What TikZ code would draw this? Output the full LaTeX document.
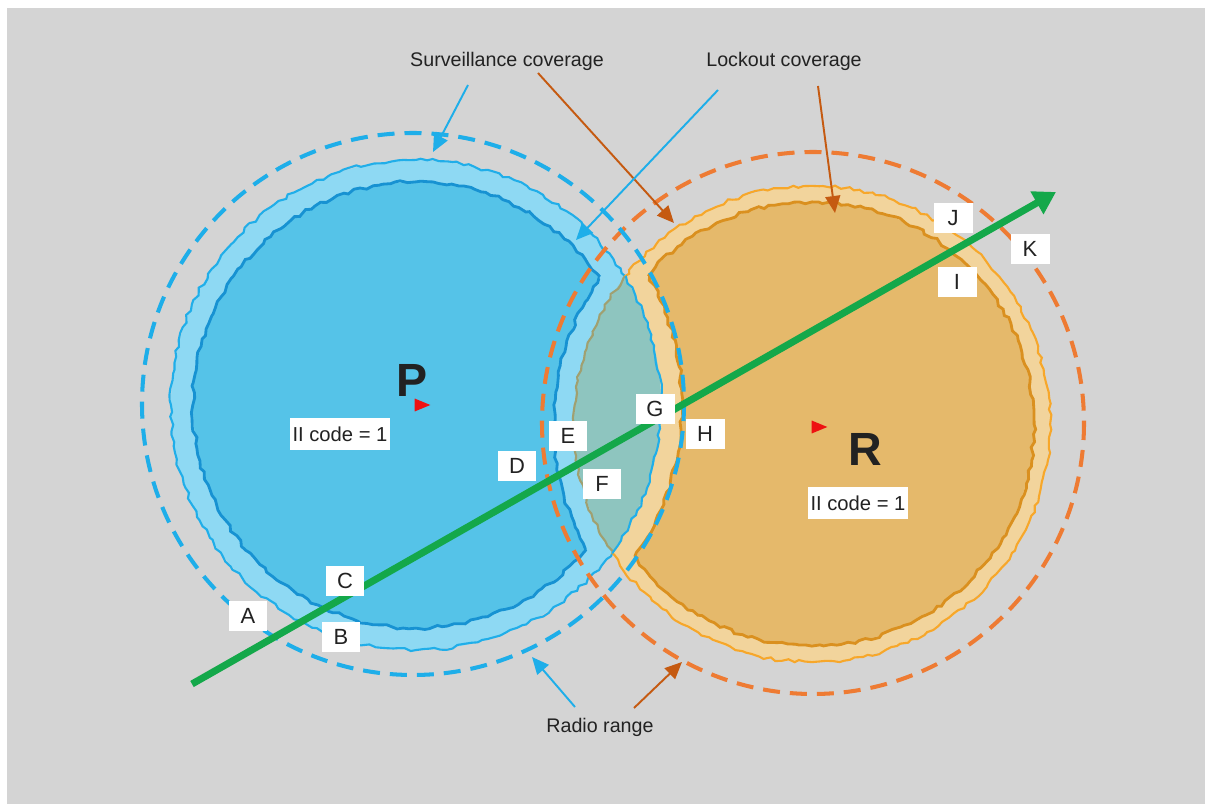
\documentclass[tikz,border=0pt]{standalone}
\usepackage{fontspec}
\setmainfont{Liberation Sans}
\usetikzlibrary{arrows.meta,decorations.pathmorphing,shapes.geometric}
\definecolor{bggray}{HTML}{D4D4D4}
\definecolor{bandblue}{HTML}{8ED9F3}
\definecolor{coreblue}{HTML}{55C3E8}
\definecolor{edgeblue}{HTML}{20AEE9}
\definecolor{deepblue}{HTML}{1792D2}
\definecolor{lensteal}{HTML}{8EC5BF}
\definecolor{lensolive}{HTML}{A0A070}
\definecolor{bandorange}{HTML}{F2D49C}
\definecolor{coreorange}{HTML}{E5B96B}
\definecolor{edgeorange}{HTML}{F7A72A}
\definecolor{deeporange}{HTML}{DA901F}
\definecolor{radioblue}{HTML}{1EAEE9}
\definecolor{radioorange}{HTML}{EE7B33}
\definecolor{trackgreen}{HTML}{14A84A}
\definecolor{sitered}{HTML}{EE1111}
\definecolor{pointbrown}{HTML}{C55A11}
\definecolor{textgray}{HTML}{222222}
\begin{document}
\pgfmathsetseed{7}
\begin{tikzpicture}[x=0.02cm,y=-0.02cm,
  tag/.style={fill=white,inner sep=0pt,minimum width=0.78cm,minimum height=0.62cm,
    font=\fontsize{12.5}{14}\selectfont,text=textgray},
  code/.style={fill=white,inner xsep=1.5pt,inner ysep=0pt,minimum height=0.64cm,
    font=\fontsize{11.5}{13}\selectfont,text=textgray},
  caption/.style={anchor=base,font=\fontsize{11.2}{13}\selectfont,text=textgray},
  big/.style={anchor=base,font=\fontsize{26.5}{30}\selectfont\bfseries,text=textgray},
  rough/.style={decorate,decoration={random steps,segment length=0.12cm,amplitude=0.035cm}},
  radio/.style={line width=2.3pt,dash pattern=on 0.34cm off 0.2cm},
  pointer/.style={line width=1.1pt,-{Triangle[length=0.34cm,width=0.3cm]}},
  site/.style={isosceles triangle,fill=sitered,inner sep=0pt,minimum width=0.26cm,minimum height=0.24cm}]
  \useasboundingbox (0,0) rectangle (1205,804);
  \fill[white] (0,0) rectangle (1205,804);
  \fill[bggray] (7,8) rectangle (1205,804);

  \coordinate (P) at (416,405);
  \coordinate (R) at (812,424);
  \coordinate (Pr) at (413,404);
  \coordinate (Rr) at (813,423);

  % surveillance area of P, outside R
  \begin{scope}[even odd rule]
    \clip (-100,-100) rectangle (1400,1000) (R) circle (238);
    \fill[bandblue] (P) circle (245);
    \draw[edgeblue,line width=1.2pt,rough] (P) circle (245);
    \begin{scope}[even odd rule]
      \clip (-100,-100) rectangle (1400,1000) (R) circle (258);
      \fill[coreblue] (P) circle (223);
      \draw[deepblue,line width=1.6pt,rough] (P) circle (223);
    \end{scope}
    \begin{scope}
      \clip (P) circle (223);
      \draw[deepblue,line width=1.6pt,rough] (R) circle (258);
    \end{scope}
  \end{scope}

  % lockout area of R, outside P
  \begin{scope}[even odd rule]
    \clip (-100,-100) rectangle (1400,1000) (P) circle (245);
    \fill[bandorange] (R) circle (238);
    \draw[edgeorange,line width=1.2pt,rough] (R) circle (238);
    \begin{scope}[even odd rule]
      \clip (-100,-100) rectangle (1400,1000) (P) circle (266);
      \fill[coreorange] (R) circle (222);
      \draw[deeporange,line width=1.6pt,rough] (R) circle (222);
    \end{scope}
    \begin{scope}
      \clip (R) circle (222);
      \draw[deeporange,line width=1.6pt,rough] (P) circle (266);
    \end{scope}
  \end{scope}

  % overlap
  \begin{scope}
    \clip (P) circle (245);
    \fill[lensteal] (R) circle (238);
    \draw[lensolive,line width=1.2pt,rough] (R) circle (238);
  \end{scope}
  \begin{scope}
    \clip (R) circle (238);
    \draw[edgeblue,line width=1.2pt,rough] (P) circle (245);
  \end{scope}

  % radio range
  \draw[radio,radioorange] (Rr) circle (271);
  \draw[radio,radioblue] (Pr) circle (271);

  \node[site] (psite) at (419,405) {};
  \node[site] (rsite) at (816,427) {};

  % flight track
  \coordinate (trackstart) at (192,684);
  \coordinate (trackend) at (1056,192);
  \draw[trackgreen,line width=4pt,-{Triangle[length=0.44cm,width=0.5cm]}] (trackstart) -- (trackend);

  \node[big] (plabel) at (412,397) {P};
  \node[big] (rlabel) at (865,466) {R};
  \node[code] (pcode) at (340,434) {II code = 1};
  \node[code] (rcode) at (858,503) {II code = 1};

  \node[tag] (a) at (248,616) {A};
  \node[tag] (b) at (341,637) {B};
  \node[tag] (c) at (345,581) {C};
  \node[tag] (d) at (517,466) {D};
  \node[tag] (e) at (568,436) {E};
  \node[tag] (f) at (602,484) {F};
  \node[tag] (g) at (655,409) {G};
  \node[tag] (h) at (705,434) {H};
  \node[tag] (i) at (957,282) {I};
  \node[tag] (j) at (953,218) {J};
  \node[tag] (k) at (1030,249) {K};

  \node[caption] (survtext) at (507,67) {Surveillance coverage};
  \node[caption] (locktext) at (784,67) {Lockout coverage};
  \node[caption] (radiotext) at (600,732) {Radio range};

  \coordinate (s1) at (468,85);  \coordinate (s1end) at (433,152);
  \coordinate (s2) at (538,73);  \coordinate (s2end) at (674,223);
  \coordinate (l1) at (718,90);  \coordinate (l1end) at (576,240);
  \coordinate (l2) at (818,86);  \coordinate (l2end) at (835,213);
  \coordinate (r1) at (575,707); \coordinate (r1end) at (532,657);
  \coordinate (r2) at (634,708); \coordinate (r2end) at (682,662);
  \draw[pointer,radioblue] (s1) -- (s1end);
  \draw[pointer,pointbrown] (s2) -- (s2end);
  \draw[pointer,radioblue] (l1) -- (l1end);
  \draw[pointer,pointbrown] (l2) -- (l2end);
  \draw[pointer,radioblue] (r1) -- (r1end);
  \draw[pointer,pointbrown] (r2) -- (r2end);
\end{tikzpicture}
\end{document}
